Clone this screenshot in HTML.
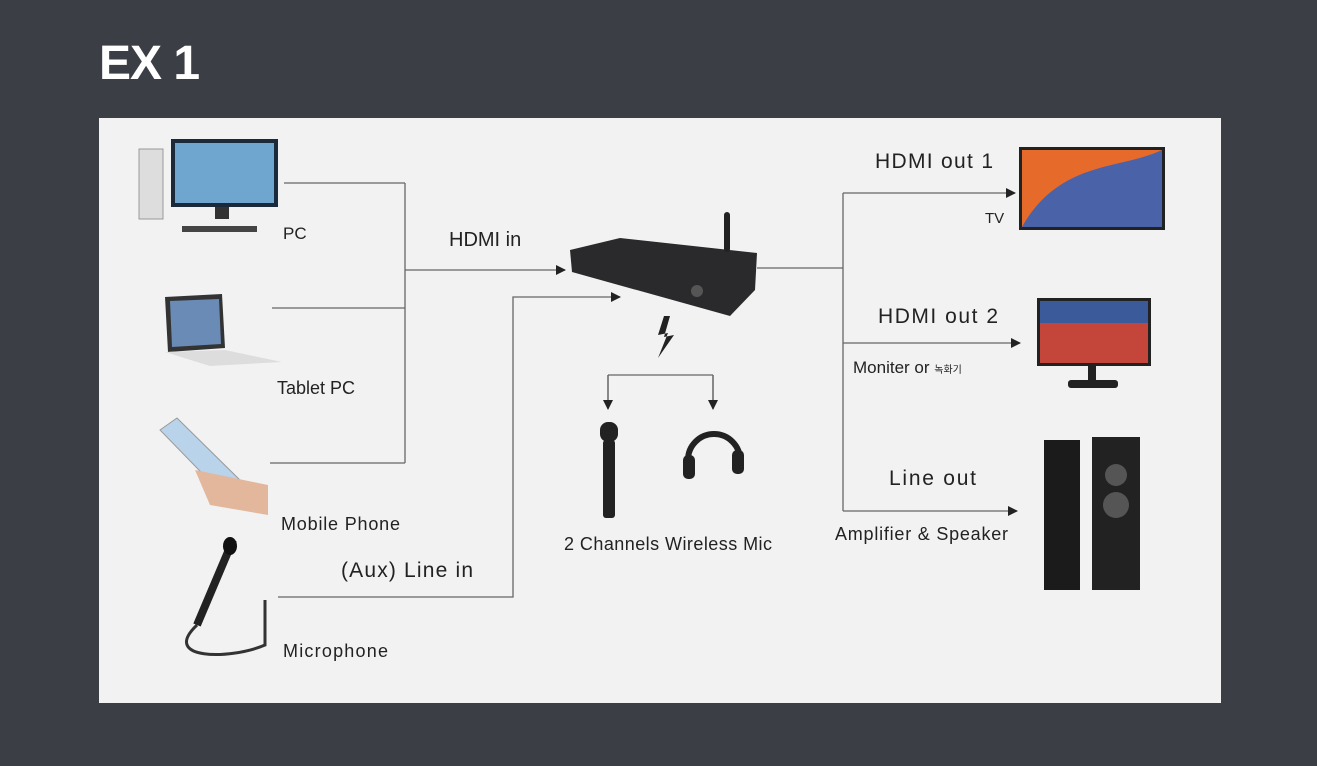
<!DOCTYPE html><html><head><style>
body{margin:0;width:1317px;height:766px;background:#3b3e45;overflow:hidden;font-family:"Liberation Sans","Noto Sans CJK KR",sans-serif}
.t{position:absolute;color:#fff;font-weight:bold;font-size:48px;left:99px;top:36px;letter-spacing:-1px}
</style></head><body>
<div class="t">EX 1</div>
<svg style="position:absolute;left:0;top:0" width="1317" height="766" font-family="Liberation Sans, Noto Sans CJK KR, sans-serif">
<defs><marker id="a" markerWidth="10" markerHeight="10" refX="9" refY="5" orient="auto" markerUnits="userSpaceOnUse"><path d="M0,0L10,5L0,10z" fill="#222"/></marker></defs>
<rect x="99" y="118" width="1122" height="585" fill="#f2f2f3"/>
<g stroke="#666" stroke-width="1.3" fill="none">
<path d="M284,183H405M272,308H405M270,463H405M405,183V463"/>
<path d="M405,270H565" marker-end="url(#a)"/>
<path d="M278,597H513V297H620" marker-end="url(#a)"/>
<path d="M757,268H843M843,193V511"/>
<path d="M843,193H1015" marker-end="url(#a)"/>
<path d="M843,343H1020" marker-end="url(#a)"/>
<path d="M843,511H1017" marker-end="url(#a)"/>
<path d="M608,375H713M608,375V408M713,375V408"/>
<path d="M608,375V409" marker-end="url(#a)"/><path d="M713,375V409" marker-end="url(#a)"/>
</g>
<rect x="139" y="149" width="24" height="70" fill="#ddd" stroke="#999"/>
<rect x="171" y="139" width="107" height="68" fill="#1a2a3a"/><rect x="175" y="143" width="99" height="60" fill="#6fa6cf"/>
<rect x="215" y="207" width="14" height="12" fill="#333"/><rect x="182" y="226" width="75" height="6" fill="#444"/>
<path d="M165,297L222,294L225,348L168,352z" fill="#333"/><path d="M170,301L219,299L221,344L172,347z" fill="#6a8bb5"/>
<path d="M165,352L225,350L282,362L210,366z" fill="#ddd"/>
<path d="M160,430L177,418L248,488L230,502z" fill="#b8d3ea" stroke="#999"/>
<path d="M195,470L268,485L268,515L210,505z" fill="#e3b79c"/>
<path d="M233,540L197,625" stroke="#222" stroke-width="8"/><ellipse cx="230" cy="546" rx="7" ry="9" fill="#111"/>
<path d="M197,625C160,660 230,660 265,645V600" stroke="#333" stroke-width="3" fill="none"/>
<path d="M570,250L620,238L757,253L755,290L730,316L572,272z" fill="#2a2a2c"/>
<rect x="724" y="212" width="6" height="40" rx="3" fill="#222"/>
<circle cx="697" cy="291" r="6" fill="#555"/>
<path d="M664,316L658,335L668,333L658,358L674,335L664,337L670,316" fill="#222"/>
<rect x="600" y="422" width="18" height="20" rx="8" fill="#222"/><rect x="603" y="440" width="12" height="78" rx="3" fill="#222"/>
<path d="M688,460A25,25 0 0 1 740,460" stroke="#222" stroke-width="6" fill="none"/>
<rect x="683" y="455" width="12" height="24" rx="5" fill="#222"/><rect x="732" y="450" width="12" height="24" rx="5" fill="#222"/>
<rect x="1019" y="147" width="146" height="83" fill="#222"/><rect x="1022" y="150" width="140" height="77" fill="#e66b2a"/>
<path d="M1022,227C1060,160 1120,170 1162,150V227z" fill="#4a62a8"/>
<rect x="1037" y="298" width="114" height="68" fill="#222"/><rect x="1040" y="301" width="108" height="62" fill="#c4453a"/>
<rect x="1040" y="301" width="108" height="22" fill="#3a5a9a"/>
<rect x="1088" y="366" width="8" height="14" fill="#222"/><rect x="1068" y="380" width="50" height="8" rx="3" fill="#222"/>
<rect x="1044" y="440" width="36" height="150" fill="#1b1b1b"/>
<rect x="1092" y="437" width="48" height="153" fill="#222"/>
<circle cx="1116" cy="475" r="11" fill="#555"/><circle cx="1116" cy="505" r="13" fill="#555"/>
<g fill="#222">
<text x="283" y="239" font-size="17">PC</text>
<text x="449" y="246" font-size="20">HDMI in</text>
<text x="277" y="394" font-size="18">Tablet PC</text>
<text x="281" y="530" font-size="18" textLength="119">Mobile Phone</text>
<text x="341" y="577" font-size="21" textLength="132">(Aux) Line in</text>
<text x="283" y="657" font-size="18" textLength="105">Microphone</text>
<text x="564" y="550" font-size="18" textLength="208">2 Channels Wireless Mic</text>
<text x="875" y="168" font-size="21" textLength="118">HDMI out 1</text>
<text x="985" y="223" font-size="15">TV</text>
<text x="878" y="323" font-size="21" textLength="120">HDMI out 2</text>
<text x="853" y="373" font-size="17">Moniter or <tspan font-size="10">녹화기</tspan></text>
<text x="889" y="485" font-size="21" textLength="87">Line out</text>
<text x="835" y="540" font-size="18" textLength="173">Amplifier &amp; Speaker</text>
</g>
</svg>
</body></html>
